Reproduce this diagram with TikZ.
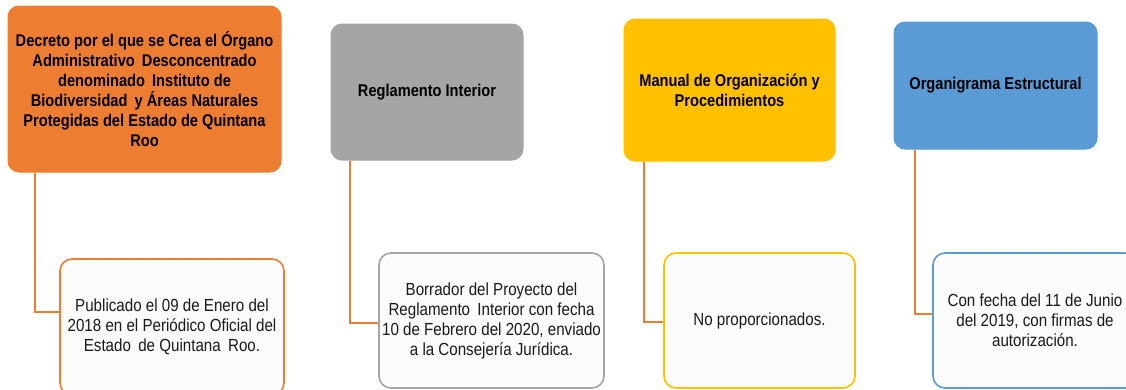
\documentclass[tikz,border=0pt]{standalone}
\usepackage{fontspec}
\setmainfont{Liberation Sans}
\newfontfamily\boldnarrow{Liberation Sans}[FakeStretch=0.86,UprightFont=* Bold]
\newfontfamily\regnarrow{Liberation Sans}[FakeStretch=0.865]
\newcommand{\wsp}{\hspace{0.18em} }
\definecolor{corange}{HTML}{ED7D31}
\definecolor{cgray}{HTML}{A5A5A5}
\definecolor{cyellow}{HTML}{FFC000}
\definecolor{cblue}{HTML}{5B9BD5}
\definecolor{cfill}{HTML}{FBFBFB}
\definecolor{ctext}{HTML}{1A1A1A}
\tikzset{
  headbox/.style={draw=#1, fill=#1, line width=1pt, rounded corners=11pt, align=center,
    inner sep=0pt, font=\boldnarrow\fontsize{17}{20}\selectfont, text=black},
  infobox/.style={draw=#1, fill=cfill, line width=1.6pt, rounded corners=12pt, align=center,
    inner sep=0pt, font=\regnarrow\fontsize{17.5}{20}\selectfont, text=ctext},
  link/.style={draw=corange, line width=2pt}
}
\begin{document}
\begin{tikzpicture}[x=1pt,y=-1pt]
\path[use as bounding box, clip] (0,0) rectangle (1126,389);
\fill[white] (0,0) rectangle (1126,389);
% top boxes
\node[headbox=corange, minimum width=273pt, minimum height=166pt] (t1) at (144.5,89)
  {Decreto por el que se Crea el Órgano\\Administrativo\wsp Desconcentrado\\denominado\wsp Instituto de\\Biodiversidad\wsp y Áreas Naturales\\Protegidas del Estado de Quintana\\Roo};
\node[headbox=cgray, minimum width=192pt, minimum height=136pt] (t2) at (427,92)
  {Reglamento Interior};
\node[headbox=cyellow, minimum width=211pt, minimum height=142pt] (t3) at (729.5,90)
  {Manual de Organización y\\Procedimientos};
\node[headbox=cblue, minimum width=203pt, minimum height=127pt] (t4) at (995.5,85.5)
  {Organigrama Estructural};
% bottom boxes
\node[infobox=corange, minimum width=224pt, minimum height=136pt] (b1) at (172,327)
  {Publicado el 09 de Enero del\\2018 en el Periódico Oficial del\\Estado\wsp de Quintana\wsp Roo.};
\node[infobox=cgray, minimum width=225pt, minimum height=135pt] (b2) at (491.5,320.5)
  {Borrador del Proyecto del\\Reglamento\wsp Interior con fecha\\10 de Febrero del 2020, enviado\\a la Consejería Jurídica.};
\node[infobox=cyellow, minimum width=191pt, minimum height=135pt] (b3) at (759.5,320.5)
  {No proporcionados.};
\node[infobox=cblue, minimum width=204pt, minimum height=135pt] (b4) at (1035,320.5)
  {Con fecha del 11 de Junio\\del 2019, con firmas de\\autorización.};
% connectors
\coordinate (k1) at (35,312);
\coordinate (k2) at (350,323);
\coordinate (k3) at (644,322);
\coordinate (k4) at (915,314);
\draw[link] (t1.south -| k1) |- (b1.west |- k1);
\draw[link] (t2.south -| k2) |- (b2.west |- k2);
\draw[link] (t3.south -| k3) |- (b3.west |- k3);
\draw[link] (t4.south -| k4) |- (b4.west |- k4);
\end{tikzpicture}
\end{document}
